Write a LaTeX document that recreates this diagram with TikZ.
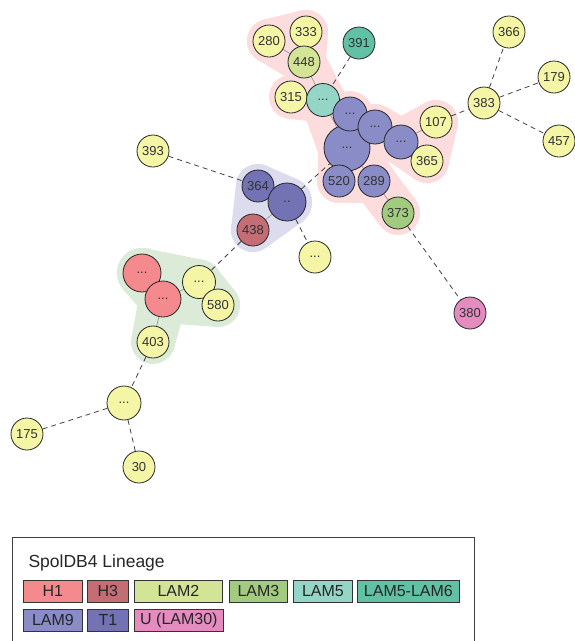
\documentclass[tikz,border=0pt]{standalone}
\usepackage{fontspec}
\setmainfont{Liberation Sans}
\usetikzlibrary{calc,backgrounds}
\definecolor{yel}{HTML}{F5F5A6}
\definecolor{hone}{HTML}{F4898E}
\definecolor{hthree}{HTML}{C46D74}
\definecolor{lamtwo}{HTML}{D3E496}
\definecolor{lamthree}{HTML}{A2CB80}
\definecolor{lamfive}{HTML}{94D5C5}
\definecolor{lamfivesix}{HTML}{62C0A4}
\definecolor{lamnine}{HTML}{8A8CC8}
\definecolor{tone}{HTML}{7272B4}
\definecolor{ulam}{HTML}{E48BC0}
\definecolor{hullpink}{HTML}{FCDCDC}
\definecolor{hullblue}{HTML}{DCDCEE}
\definecolor{hullgreen}{HTML}{DCEBD8}
\tikzset{
  strain/.style={circle, draw=black!85, line width=0.8pt, minimum size=32pt, inner sep=0pt,
    font=\fontsize{13}{13}\selectfont, text=black!80},
  link/.style={draw=black!45, line width=0.6pt},
  farlink/.style={draw=black!75, line width=0.8pt, dash pattern=on 5pt off 4pt},
  legendbox/.style={draw=black!80, line width=0.8pt, minimum height=22pt, inner sep=0pt,
    anchor=north west, font=\fontsize{16}{16}\selectfont, text=black!85},
}
\begin{document}
\begin{tikzpicture}[x=1pt, y=-1pt]
\useasboundingbox (0,0) rectangle (574,641);
% LAM9 cluster
\node[strain, fill=yel] (n280) at (269,41) {280};
\node[strain, fill=yel] (n333) at (306,32) {333};
\node[strain, fill=lamtwo] (n448) at (304,62) {448};
\node[strain, fill=lamfivesix] (n391) at (359,43) {391};
\node[strain, fill=yel] (n315) at (291,97) {315};
\node[strain, fill=lamfive, minimum size=33pt] (nlamfive) at (323,100) {...};
\node[strain, fill=lamnine, minimum size=46pt] (nbig) at (347,148) {...};
\node[strain, fill=lamnine, minimum size=34pt] (nup) at (350,114) {...};
\node[strain, fill=lamnine, minimum size=34pt] (nmid) at (375,127) {...};
\node[strain, fill=lamnine, minimum size=34pt] (nright) at (401,142) {...};
\node[strain, fill=yel] (n107) at (436,122) {107};
\node[strain, fill=yel] (n365) at (427,161) {365};
\node[strain, fill=lamnine] (n520) at (339,181) {520};
\node[strain, fill=lamnine] (n289) at (374,181) {289};
\node[strain, fill=lamthree] (n373) at (398,213) {373};
\node[strain, fill=ulam] (n380) at (470,313) {380};
% right branch
\node[strain, fill=yel] (n383) at (484,103) {383};
\node[strain, fill=yel] (n366) at (509,32) {366};
\node[strain, fill=yel] (n179) at (554,77) {179};
\node[strain, fill=yel] (n457) at (559,141) {457};
% T1 cluster
\node[strain, fill=tone] (n364) at (258,186) {364};
\node[strain, fill=tone, minimum size=38pt] (ntone) at (287,202) {..};
\node[strain, fill=hthree] (n438) at (253,230) {438};
\node[strain, fill=yel] (n393) at (153,151) {393};
\node[strain, fill=yel] (nyel) at (315,257) {...};
% H1 cluster
\node[strain, fill=hone, minimum size=38pt] (nhup) at (142,273) {...};
\node[strain, fill=hone, minimum size=36pt] (nhlow) at (163,299) {...};
\node[strain, fill=yel, minimum size=33pt] (nlamtwo) at (199,282) {...};
\node[strain, fill=yel] (n580) at (218,305) {580};
\node[strain, fill=yel] (n403) at (153,342) {403};
\node[strain, fill=yel, minimum size=34pt] (nbot) at (124,403) {...};
\node[strain, fill=yel] (n175) at (27,434) {175};
\node[strain, fill=yel] (n30) at (139,467) {30};
% shaded groups and links
\begin{scope}[on background layer]
\foreach \a/\b/\ra/\rb/\col in {n280/n448/22pt/22pt/hullpink, n333/n448/22pt/22pt/hullpink,
    n280/n333/22pt/22pt/hullpink, n448/nlamfive/22pt/22.5pt/hullpink,
    n315/nlamfive/22pt/22.5pt/hullpink, nlamfive/nbig/22.5pt/29pt/hullpink,
    nup/nbig/23pt/29pt/hullpink, nmid/nbig/23pt/29pt/hullpink, nright/nmid/23pt/23pt/hullpink,
    nright/n107/23pt/22pt/hullpink, nright/n365/23pt/22pt/hullpink, n107/n365/22pt/22pt/hullpink,
    nbig/n520/29pt/22pt/hullpink, nbig/n289/29pt/22pt/hullpink, n520/n289/22pt/22pt/hullpink,
    n289/n373/22pt/22pt/hullpink,
    n364/ntone/22pt/25pt/hullblue, ntone/n438/25pt/22pt/hullblue, n364/n438/22pt/22pt/hullblue,
    nhup/nhlow/25pt/24pt/hullgreen, nhlow/nlamtwo/24pt/22.5pt/hullgreen,
    nhup/nlamtwo/25pt/22.5pt/hullgreen, nlamtwo/n580/22.5pt/22pt/hullgreen,
    nhlow/n580/24pt/22pt/hullgreen, nhlow/n403/24pt/22pt/hullgreen} {
  \fill[\col] ($(\a)!\ra!90:(\b)$) -- ($(\b)!\rb!-90:(\a)$) -- ($(\b)!\rb!90:(\a)$)
    -- ($(\a)!\ra!-90:(\b)$) -- cycle;
  \fill[\col] (\a.center) circle (\ra);
  \fill[\col] (\b.center) circle (\rb);
}
\foreach \a/\b in {n280/n448, n333/n448, n448/nlamfive, n315/nlamfive, nlamfive/nbig, nup/nbig,
    nmid/nbig, nmid/nright, nright/n107, nright/n365, nbig/n520, nbig/n289, n289/n373,
    n364/ntone, ntone/n438, nhup/nhlow, nhlow/nlamtwo, nlamtwo/n580, nhlow/n403}
  \draw[link] (\a.center) -- (\b.center);
\end{scope}
\foreach \a/\b in {n391/nlamfive, n107/n383, n383/n366, n383/n179, n383/n457, ntone/nbig,
    n393/n364, ntone/nyel, n438/nlamtwo, n403/nbot, nbot/n175, nbot/n30, n373/n380}
  \draw[farlink] (\a) -- (\b);
% legend
\draw[draw=black!75, line width=0.8pt] (12,641) -- (12,537) -- (474,537) -- (474,641);
\node[anchor=base west, font=\fontsize{17.5}{17.5}\selectfont, text=black!85] (lgtitle) at (25,567) {SpolDB4 Lineage};
\node[legendbox, fill=hone, minimum width=59pt] (lg-hone) at (23,580) {H1};
\node[legendbox, fill=hthree, minimum width=41pt] (lg-hthree) at (87,580) {H3};
\node[legendbox, fill=lamtwo, minimum width=88pt] (lg-lamtwo) at (134,580) {LAM2};
\node[legendbox, fill=lamthree, minimum width=58pt] (lg-lamthree) at (229,580) {LAM3};
\node[legendbox, fill=lamfive, minimum width=59pt] (lg-lamfive) at (293,580) {LAM5};
\node[legendbox, fill=lamfivesix, minimum width=102pt] (lg-lamfivesix) at (357,580) {LAM5-LAM6};
\node[legendbox, fill=lamnine, minimum width=59pt] (lg-lamnine) at (23,609) {LAM9};
\node[legendbox, fill=tone, minimum width=41pt] (lg-tone) at (87,609) {T1};
\node[legendbox, fill=ulam, minimum width=89pt] (lg-ulam) at (134,609) {U (LAM30)};
\end{tikzpicture}
\end{document}
